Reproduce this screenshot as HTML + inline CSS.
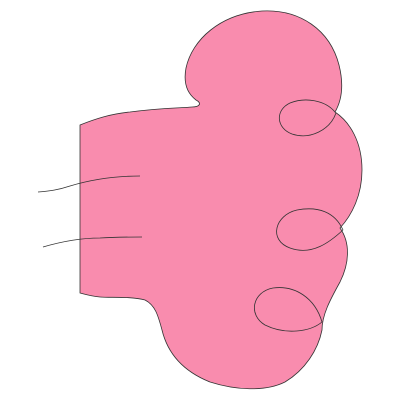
<!DOCTYPE html>
<html><head><meta charset="utf-8"><style>
html,body{margin:0;padding:0;background:#fff;width:400px;height:400px;overflow:hidden}
</style></head><body>
<svg width="400" height="400" viewBox="0 0 400 400">
<path fill="#f98cae" stroke="#333" stroke-width="0.8"
d="M80,125 C95,119 110,114 130,112 C160,108 180,108 192,107 C200,107 202,103 196,100
C188,94 183,84 186,68 C192,40 220,14 262,11 C300,9 330,30 339,65 C344,85 342,100 335,112
C350,122 362,142 362,170 C362,195 352,215 340,228 C350,242 350,262 340,282
C330,300 322,315 322,330 C318,350 305,370 285,382 C265,392 235,390 210,382
C185,372 168,355 162,330 C158,315 155,305 145,300 C130,296 110,298 100,297 C90,296 84,294 80,293 Z"/>
<path fill="none" stroke="#333" stroke-width="0.8"
d="M335,112 C325,100 305,97 290,103 C275,110 276,128 292,134 C310,140 330,130 336,113"/>
<path fill="none" stroke="#333" stroke-width="0.8"
d="M343,230 C335,212 318,206 297,210 C275,215 268,240 290,248 C312,256 330,242 343,230"/>
<path fill="none" stroke="#333" stroke-width="0.8"
d="M322,322 C315,298 295,285 273,288 C252,292 248,315 265,325 C285,335 310,332 322,322"/>
<path fill="none" stroke="#333" stroke-width="0.8"
d="M38,192 C50,191 58,190 70,186 C90,180 115,176 140,176"/>
<path fill="none" stroke="#333" stroke-width="0.8"
d="M43,247 C60,242 80,238 100,238 C115,237 130,237 142,237"/>
</svg>
</body></html>
